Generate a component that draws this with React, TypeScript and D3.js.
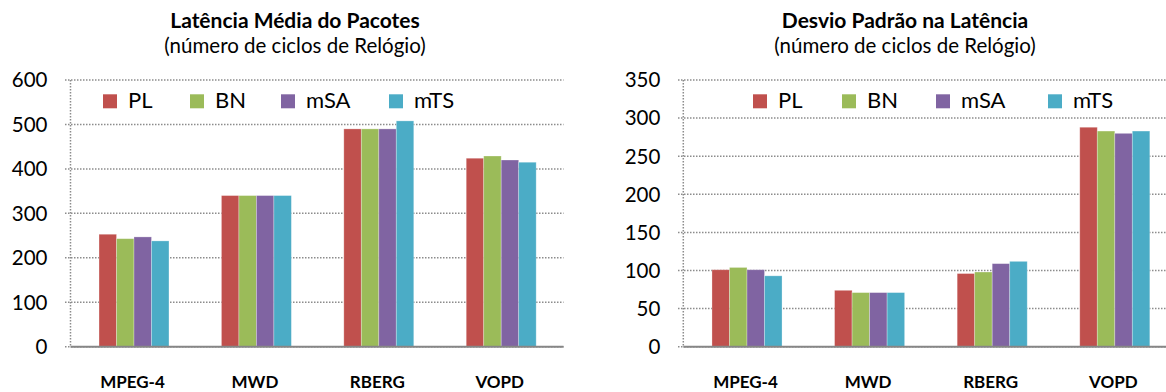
import React from "react";
import * as d3 from "d3";

const categories = ["MPEG-4", "MWD", "RBERG", "VOPD"];
const seriesNames = ["PL", "BN", "mSA", "mTS"];
const seriesColors = ["#C0504D", "#9BBB59", "#8064A2", "#4BACC6"];

// Latência Média do Pacotes
const latPL = [253, 340, 490, 424];
const latBN = [243, 340, 490, 429];
const latMSA = [247, 340, 490, 420];
const latMTS = [238, 340, 508, 415];
const latTicks = [0, 100, 200, 300, 400, 500, 600];

// Desvio Padrão na Latência
const devPL = [101, 74, 96, 288];
const devBN = [104, 71, 98, 283];
const devMSA = [101, 71, 109, 280];
const devMTS = [93, 71, 112, 283];
const devTicks = [0, 50, 100, 150, 200, 250, 300, 350];

const W = 1166;
const H = 392;
const FONT = "Lato, 'Open Sans', sans-serif";

type ChartCfg = {
  title: string;
  subtitle: string;
  series: number[][];
  ticks: number[];
  axisX: number;
  xRange: [number, number];
  gridStart: number;
  gridEnd: number;
  titleX: number;
  legendX: number;
  legendOffsets: number[];
};

const charts: ChartCfg[] = [
  {
    title: "Latência Média do Pacotes",
    subtitle: "(número de ciclos de Relógio)",
    series: [latPL, latBN, latMSA, latMTS],
    ticks: latTicks,
    axisX: 70.5,
    xRange: [72.8, 562.4],
    gridStart: 65,
    gridEnd: 563.5,
    titleX: 295,
    legendX: 103,
    legendOffsets: [0, 87, 178, 286],
  },
  {
    title: "Desvio Padrão na Latência",
    subtitle: "(número de ciclos de Relógio)",
    series: [devPL, devBN, devMSA, devMTS],
    ticks: devTicks,
    axisX: 683.3,
    xRange: [685.7, 1176.1],
    gridStart: 678,
    gridEnd: 1166,
    titleX: 905,
    legendX: 753,
    legendOffsets: [0, 89, 183, 295],
  },
];

const Y0 = 346.7;
const YTOP = 80;

function Chart({ cfg }: { cfg: ChartCfg }) {
  const yMax = cfg.ticks[cfg.ticks.length - 1];
  const y = d3.scaleLinear().domain([0, yMax]).range([Y0, YTOP]);
  const x = d3.scaleBand<string>().domain(categories).range(cfg.xRange).paddingInner(0).paddingOuter(0);
  const xs = d3
    .scaleBand<string>()
    .domain(seriesNames)
    .range([0, x.bandwidth()])
    .paddingInner(0)
    .paddingOuter(1.5);
  const grid = "#8c8c8c";
  return (
    <g>
      <text x={cfg.titleX} y={27.5} textAnchor="middle" fontFamily={FONT} fontWeight={700} fontSize={21} fill="#000">
        {cfg.title}
      </text>
      <text x={cfg.titleX} y={53} textAnchor="middle" fontFamily={FONT} fontSize={20.5} fill="#000">
        {cfg.subtitle}
      </text>
      {cfg.ticks.map((t) => (
        <g key={t}>
          <line
            x1={cfg.gridStart}
            x2={cfg.gridEnd}
            y1={y(t)}
            y2={y(t)}
            stroke={grid}
            strokeWidth={1.5}
            strokeDasharray="1.5 1.5"
          />
          <text
            x={cfg.axisX - 23}
            y={y(t)}
            dy="0.36em"
            textAnchor="end"
            fontFamily={FONT}
            fontSize={20.5}
            fill="#000"
          >
            {t}
          </text>
        </g>
      ))}
      <line
        x1={cfg.axisX}
        x2={cfg.axisX}
        y1={YTOP}
        y2={Y0}
        stroke={grid}
        strokeWidth={1.5}
        strokeDasharray="1.5 1.5"
      />
      {categories.map((c, ci) =>
        seriesNames.map((s, si) => {
          const v = cfg.series[si][ci];
          return (
            <rect
              key={c + s}
              x={(x(c) as number) + (xs(s) as number)}
              y={y(v)}
              width={xs.bandwidth()}
              height={Y0 - y(v)}
              fill={seriesColors[si]}
              stroke="#ffffff"
              strokeOpacity={0.35}
              strokeWidth={0.8}
            />
          );
        })
      )}
      <line x1={cfg.axisX} x2={cfg.gridEnd} y1={Y0} y2={Y0} stroke="#868686" strokeWidth={2} />
      {categories.map((c) => (
        <text
          key={c}
          x={(x(c) as number) + x.bandwidth() / 2 - 1.5}
          y={387.5}
          textAnchor="middle"
          fontFamily={FONT}
          fontWeight={700}
          fontSize={17}
          fill="#000"
        >
          {c}
        </text>
      ))}
      {seriesNames.map((s, si) => (
        <g key={s} transform={`translate(${cfg.legendX + cfg.legendOffsets[si]},0)`}>
          <rect x={0} y={94.3} width={14} height={14} fill={seriesColors[si]} />
          <text x={25} y={108.3} fontFamily={FONT} fontSize={22} fill="#000">
            {s}
          </text>
        </g>
      ))}
    </g>
  );
}

export default function App() {
  return (
    <svg
      width={W}
      height={H}
      viewBox={`0 0 ${W} ${H}`}
      style={{ position: "absolute", left: 0, top: 0, background: "#fff" }}
    >
      <rect width={W} height={H} fill="#fff" />
      {charts.map((c, i) => (
        <Chart key={i} cfg={c} />
      ))}
    </svg>
  );
}
